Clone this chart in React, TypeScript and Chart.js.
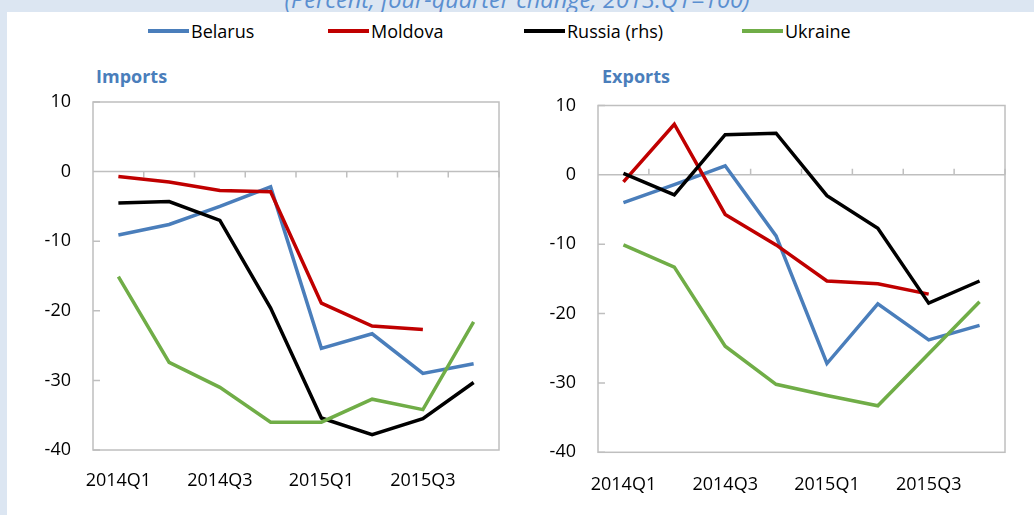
import React, { useEffect, useRef } from "react";
import { Chart, registerables } from "chart.js";

Chart.register(...registerables);

// ---- Data ----
const quarters = ["2014Q1", "2014Q2", "2014Q3", "2014Q4", "2015Q1", "2015Q2", "2015Q3", "2015Q4"];
const yTicks = [-40, -30, -20, -10, 0, 10];

const importsBelarus = [-9.1, -7.6, -5.0, -2.2, -25.4, -23.3, -29.0, -27.6];
const importsMoldova = [-0.7, -1.5, -2.7, -2.9, -18.9, -22.2, -22.7, null];
const importsRussia = [-4.5, -4.3, -7.0, -19.6, -35.4, -37.8, -35.5, -30.3];
const importsUkraine = [-15.1, -27.4, -31.0, -36.0, -36.0, -32.7, -34.2, -21.6];

const exportsBelarus = [-4.0, -1.4, 1.3, -8.8, -27.2, -18.6, -23.8, -21.7];
const exportsMoldova = [-1.0, 7.3, -5.7, -10.1, -15.3, -15.7, -17.2, null];
const exportsRussia = [0.2, -2.9, 5.8, 6.0, -3.0, -7.7, -18.5, -15.3];
const exportsUkraine = [-10.1, -13.3, -24.7, -30.2, -31.8, -33.3, -25.8, -18.3];

const seriesNames = ["Belarus", "Moldova", "Russia (rhs)", "Ukraine"];
const seriesColors = ["#4a7ebb", "#c00000", "#000000", "#70ad47"];

const FONT = "'Open Sans', 'DejaVu Sans', sans-serif";
const FRAME = "#bfbfbf";

function framePlugin(tickDir: number) {
  return {
    id: "frame",
    beforeDatasetsDraw(chart: any) {
      const { ctx, chartArea } = chart;
      const x = chart.scales.x;
      const y = chart.scales.y;
      ctx.save();
      ctx.strokeStyle = FRAME;
      ctx.lineWidth = 1.5;
      ctx.strokeRect(chartArea.left, chartArea.top, chartArea.right - chartArea.left, chartArea.bottom - chartArea.top);
      const y0 = y.getPixelForValue(0);
      ctx.beginPath();
      ctx.moveTo(chartArea.left, y0);
      ctx.lineTo(chartArea.right, y0);
      // y tick marks (inward)
      y.ticks.forEach((t: any) => {
        const py = y.getPixelForValue(t.value);
        ctx.moveTo(chartArea.left, py);
        ctx.lineTo(chartArea.left + 7, py);
      });
      // x tick marks at category boundaries on zero line
      const n = quarters.length;
      for (let i = 0; i < n; i++) {
        const px = i < n - 1
          ? (x.getPixelForValue(i) + x.getPixelForValue(i + 1)) / 2
          : chartArea.right;
        ctx.moveTo(px, y0);
        ctx.lineTo(px, y0 + tickDir * 6);
      }
      ctx.stroke();
      ctx.restore();
    },
  };
}

function buildConfig(
  values: (number | null)[][],
  pad: { top: number; right: number },
  yWidth: number,
  xHeight: number,
  xPad: number,
  tickDir: number
): any {
  return {
    type: "line",
    data: {
      labels: quarters,
      datasets: values.map((v, i) => ({
        label: seriesNames[i],
        data: v,
        borderColor: seriesColors[i],
        backgroundColor: seriesColors[i],
        borderWidth: 3.5,
        pointRadius: 0,
        tension: 0,
        fill: false,
        order: values.length - 1 - i,
      })),
    },
    options: {
      animation: false,
      responsive: false,
      maintainAspectRatio: false,
      layout: { autoPadding: false, padding: { top: pad.top, right: pad.right, left: 0, bottom: 0 } },
      plugins: { legend: { display: false }, tooltip: { enabled: false }, title: { display: false } },
      scales: {
        x: {
          type: "category",
          offset: true,
          grid: { display: false, drawTicks: false },
          border: { display: false },
          ticks: {
            autoSkip: false,
            maxRotation: 0,
            padding: xPad,
            color: "#000",
            font: { family: FONT, size: 18 },
            callback: (_v: any, i: number) => (i % 2 === 0 ? quarters[i] : ""),
          },
          afterFit: (s: any) => {
            s.height = xHeight;
            s.paddingLeft = 0;
            s.paddingRight = 0;
          },
        },
        y: {
          min: yTicks[0],
          max: yTicks[yTicks.length - 1],
          afterBuildTicks: (s: any) => {
            s.ticks = yTicks.map((v) => ({ value: v }));
          },
          grid: { display: false, drawTicks: false },
          border: { display: false },
          ticks: {
            padding: 22,
            color: "#000",
            font: { family: FONT, size: 18 },
          },
          afterFit: (s: any) => {
            s.width = yWidth;
            s.paddingTop = 0;
            s.paddingBottom = 0;
          },
        },
      },
    },
    plugins: [framePlugin(tickDir)],
  };
}

function Panel(props: { config: any; left: number; top: number; width: number; height: number }) {
  const ref = useRef<HTMLCanvasElement | null>(null);
  useEffect(() => {
    if (!ref.current) return;
    const chart = new Chart(ref.current, props.config);
    return () => chart.destroy();
  }, []);
  return (
    <canvas
      ref={ref}
      width={props.width}
      height={props.height}
      style={{ position: "absolute", left: props.left, top: props.top, width: props.width, height: props.height }}
    />
  );
}

export default function App() {
  const importsCfg = buildConfig(
    [importsBelarus, importsMoldova, importsRussia, importsUkraine],
    { top: 12, right: 16 },
    93,
    65,
    20,
    1
  );
  const exportsCfg = buildConfig(
    [exportsBelarus, exportsMoldova, exportsRussia, exportsUkraine],
    { top: 15.5, right: 29 },
    83,
    62.7,
    22,
    -1
  );
  const legendX = [148, 328, 524, 742];
  return (
    <div
      style={{
        position: "fixed",
        left: 0,
        top: 0,
        width: 1034,
        height: 515,
        background: "#dce6f2",
        overflow: "hidden",
        fontFamily: FONT,
      }}
    >
      <div
        style={{
          position: "absolute",
          left: 0,
          width: 1034,
          top: -16,
          textAlign: "center",
          fontStyle: "italic",
          fontSize: 23.5,
          lineHeight: "30px",
          color: "#5b8fd0",
          whiteSpace: "nowrap",
        }}
      >
        (Percent, four-quarter change; 2013.Q1=100)
      </div>
      <div style={{ position: "absolute", left: 7, top: 12, right: 0, bottom: 0, background: "#ffffff" }} />
      {seriesNames.map((n, i) => (
        <div key={n} style={{ position: "absolute", left: legendX[i], top: 18, height: 26, display: "flex", alignItems: "center" }}>
          <div style={{ width: 41, height: 3.5, background: seriesColors[i], marginRight: 2 }} />
          <span style={{ fontSize: 18, color: "#000", whiteSpace: "nowrap" }}>{n}</span>
        </div>
      ))}
      <div style={{ position: "absolute", left: 96, top: 64, fontSize: 18, fontWeight: 700, color: "#4a7ebb" }}>Imports</div>
      <div style={{ position: "absolute", left: 602, top: 64, fontSize: 18, fontWeight: 700, color: "#4a7ebb" }}>Exports</div>
      <Panel config={importsCfg} left={0} top={90} width={515} height={425} />
      <Panel config={exportsCfg} left={515} top={90} width={519} height={425} />
    </div>
  );
}
